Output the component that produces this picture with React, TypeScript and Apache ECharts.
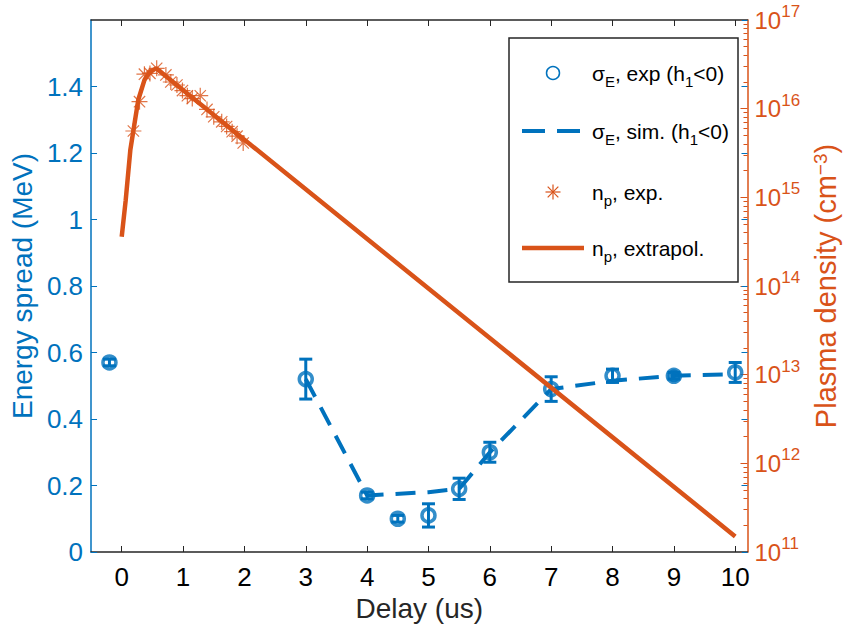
import { useEffect, useRef } from "react";
import * as echarts from "echarts";

const BLUE = "#0072BD";
const ORANGE = "#D95319";
const FONT = "'Liberation Sans', Arial, Helvetica, sans-serif";

// Energy spread, experiment (h1 < 0): delay [us], spread [MeV], error half-width [MeV]
const expDelay = [-0.2, 3, 4, 4.5, 5, 5.5, 6, 7, 8, 9, 10];
const expSpread = [0.57, 0.52, 0.17, 0.1, 0.11, 0.19, 0.3, 0.49, 0.53, 0.53, 0.54];
const expError = [0.01, 0.06, 0.01, 0.01, 0.035, 0.032, 0.03, 0.037, 0.02, 0.01, 0.03];
const expFilled = [false, false, false, false, false, false, false, false, false, true, false];

// Energy spread, simulation (h1 < 0)
const simDelay = [3, 4, 5, 5.5, 6, 7, 8, 9, 10];
const simSpread = [0.52, 0.17, 0.18, 0.19, 0.3, 0.49, 0.515, 0.53, 0.535];

// Plasma density, measured [cm^-3]
const npDelay = [0.19, 0.29, 0.37, 0.46, 0.57, 0.72, 0.8, 0.9, 0.99, 1.07, 1.15, 1.28, 1.39, 1.5, 1.63, 1.71, 1.8, 1.88, 1.98];
const npDensity = [5.6e15, 1.2e16, 2.45e16, 2.5e16, 2.85e16, 2.4e16, 2.0e16, 1.85e16, 1.6e16, 1.4e16, 1.3e16, 1.4e16, 9.8e15, 8.1e15, 7.1e15, 6.3e15, 5.5e15, 4.9e15, 4.1e15];

// Plasma density, extrapolated [cm^-3]
const fitDelay = [0, 0.065, 0.14, 0.27, 0.37, 0.46, 0.56, 10];
const fitDensity = [3.6e14, 9.3e14, 3.4e15, 1.26e16, 2.1e16, 2.6e16, 2.85e16, 1.5e11];

// Axis ticks
const delayTicks = [0, 1, 2, 3, 4, 5, 6, 7, 8, 9, 10];
const densityTicks = [1e11, 1e12, 1e13, 1e14, 1e15, 1e16, 1e17];

const densityMinorTicks: number[] = [];
for (let e = 11; e < 17; e++) {
  for (let k = 2; k <= 9; k++) densityMinorTicks.push(k * Math.pow(10, e));
}

const ASTERISK = "path://M0 -10L0 10M-10 0L10 0M-7.07 -7.07L7.07 7.07M-7.07 7.07L7.07 -7.07";

const legendText = {
  t: { fontSize: 21, fontFamily: FONT, color: "#000", lineHeight: 32 },
  s: { fontSize: 15, fontFamily: FONT, color: "#000", lineHeight: 15, verticalAlign: "bottom" as const },
};

export default function App() {
  const ref = useRef<HTMLDivElement>(null);

  useEffect(() => {
    document.body.style.margin = "0";
    if (!ref.current) return;
    const chart = echarts.init(ref.current, undefined, { renderer: "svg" });

    const gridLeft = 90;
    const gridTop = 20;
    const gridRight = 97;
    const gridBottom = 86;

    const lx = 509; // legend box
    const ly = 38;
    const rowY = [73, 131, 192, 248];
    const iconX0 = 522;
    const iconX1 = 580;
    const iconC = 553;
    const textX = 592;

    const astLines = (cx: number, cy: number, r: number) => {
      const d = r * 0.7071;
      const segs = [
        [0, -r, 0, r],
        [-r, 0, r, 0],
        [-d, -d, d, d],
        [-d, d, d, -d],
      ];
      return segs.map((s) => ({
        type: "line",
        z: 12,
        shape: { x1: cx + s[0], y1: cy + s[1], x2: cx + s[2], y2: cy + s[3] },
        style: { stroke: ORANGE, lineWidth: 1.2 },
      }));
    };

    chart.setOption({
      animation: false,
      backgroundColor: "#fff",
      textStyle: { fontFamily: FONT },
      grid: { left: gridLeft, top: gridTop, right: gridRight, bottom: gridBottom, containLabel: false },
      xAxis: [
        {
          type: "value",
          min: -0.5,
          max: 10.2,
          position: "bottom",
          name: "Delay (us)",
          nameLocation: "middle",
          nameGap: 40,
          nameTextStyle: { fontSize: 28, color: "#262626", fontFamily: FONT },
          axisLine: { onZero: false, lineStyle: { color: "#262626", width: 1.5 } },
          axisTick: { inside: true, length: 6, customValues: delayTicks, lineStyle: { color: "#262626" } },
          axisLabel: { customValues: delayTicks, fontSize: 26, color: "#000", margin: 12, fontFamily: FONT },
          splitLine: { show: false },
        },
        {
          type: "value",
          min: -0.5,
          max: 10.2,
          position: "top",
          axisLine: { onZero: false, lineStyle: { color: "#262626", width: 1.5 } },
          axisTick: { inside: true, length: 6, customValues: delayTicks, lineStyle: { color: "#262626" } },
          axisLabel: { show: false },
          splitLine: { show: false },
        },
      ],
      yAxis: [
        {
          type: "value",
          min: 0,
          max: 1.6,
          interval: 0.2,
          position: "left",
          name: "Energy spread (MeV)",
          nameLocation: "middle",
          nameGap: 52,
          nameTextStyle: { fontSize: 28, color: BLUE, fontFamily: FONT },
          axisLine: { show: true, onZero: false, lineStyle: { color: BLUE, width: 1.5 } },
          axisTick: { show: true, inside: true, length: 6, lineStyle: { color: BLUE } },
          axisLabel: { fontSize: 26, color: BLUE, margin: 8, showMaxLabel: false, fontFamily: FONT },
          splitLine: { show: false },
        },
        {
          type: "log",
          logBase: 10,
          min: 1e11,
          max: 1e17,
          position: "right",
          name: "Plasma density (cm{sup|−3})",
          nameLocation: "middle",
          nameGap: 60,
          nameTextStyle: {
            fontSize: 29,
            color: ORANGE,
            fontFamily: FONT,
            rich: { sup: { fontSize: 19, color: ORANGE, fontFamily: FONT, verticalAlign: "top", lineHeight: 16 } },
          },
          axisLine: { show: true, onZero: false, lineStyle: { color: ORANGE, width: 1.5 } },
          axisTick: { show: true, inside: true, length: 7, customValues: densityTicks, lineStyle: { color: ORANGE } },
          axisLabel: {
            customValues: densityTicks,
            margin: 7,
            formatter: (v: number) => `{b|10}{s|${Math.round(Math.log10(v))}}`,
            rich: {
              b: { fontSize: 24, color: ORANGE, fontFamily: FONT, lineHeight: 34 },
              s: { fontSize: 17, color: ORANGE, fontFamily: FONT, lineHeight: 17, verticalAlign: "top" },
            },
          },
          splitLine: { show: false },
        },
        {
          // minor log ticks on the density axis
          type: "log",
          logBase: 10,
          min: 1e11,
          max: 1e17,
          position: "right",
          axisLine: { show: false, onZero: false },
          axisTick: { show: true, inside: true, length: 4, customValues: densityMinorTicks, lineStyle: { color: ORANGE } },
          axisLabel: { show: false },
          splitLine: { show: false },
        },
        {
          // energy-spread ticks repeated on the right edge
          type: "value",
          min: 0,
          max: 1.6,
          interval: 0.2,
          position: "right",
          axisLine: { show: false, onZero: false },
          axisTick: { show: true, inside: true, length: 6, lineStyle: { color: BLUE } },
          axisLabel: { show: false },
          splitLine: { show: false },
        },
      ],
      series: [
        {
          name: "sigma sim",
          type: "line",
          xAxisIndex: 0,
          yAxisIndex: 0,
          data: simDelay.map((d, i) => [d, simSpread[i]]),
          showSymbol: false,
          symbol: "none",
          lineStyle: { color: BLUE, width: 4, type: [20, 12] },
          z: 2,
        },
        {
          name: "sigma err",
          type: "custom",
          xAxisIndex: 0,
          yAxisIndex: 0,
          data: expDelay.map((d, i) => [d, expSpread[i] - expError[i], expSpread[i] + expError[i]]),
          encode: { x: 0, y: [1, 2] },
          renderItem: (_params: any, api: any) => {
            const x = api.value(0);
            const lo = api.coord([x, api.value(1)]);
            const hi = api.coord([x, api.value(2)]);
            const cap = 6.5;
            const style = { stroke: BLUE, lineWidth: 3, fill: null };
            return {
              type: "group",
              children: [
                { type: "line", shape: { x1: lo[0], y1: lo[1], x2: hi[0], y2: hi[1] }, style },
                { type: "line", shape: { x1: lo[0] - cap, y1: lo[1], x2: lo[0] + cap, y2: lo[1] }, style },
                { type: "line", shape: { x1: hi[0] - cap, y1: hi[1], x2: hi[0] + cap, y2: hi[1] }, style },
              ],
            };
          },
          z: 3,
        },
        {
          name: "sigma exp",
          type: "scatter",
          xAxisIndex: 0,
          yAxisIndex: 0,
          symbol: "circle",
          symbolSize: 13,
          data: expDelay.map((d, i) => ({
            value: [d, expSpread[i]],
            itemStyle: { color: expFilled[i] ? BLUE : "rgba(0,0,0,0)" },
          })),
          itemStyle: { borderColor: BLUE, borderWidth: 3.5 },
          z: 4,
        },
        {
          name: "np exp",
          type: "scatter",
          xAxisIndex: 0,
          yAxisIndex: 1,
          symbol: ASTERISK,
          symbolSize: 16,
          data: npDelay.map((d, i) => [d, npDensity[i]]),
          itemStyle: { color: "rgba(0,0,0,0)", borderColor: ORANGE, borderWidth: 1.2 },
          z: 5,
        },
        {
          name: "np fit",
          type: "line",
          xAxisIndex: 0,
          yAxisIndex: 1,
          data: fitDelay.map((d, i) => [d, fitDensity[i]]),
          symbol: "none",
          lineStyle: { color: ORANGE, width: 4.5 },
          z: 6,
        },
      ],
      graphic: [
        {
          type: "rect",
          shape: { x: lx, y: ly, width: 229, height: 244 },
          style: { fill: "#fff", stroke: "#262626", lineWidth: 1.5 },
          z: 10,
        },
        {
          type: "circle",
          shape: { cx: iconC, cy: rowY[0], r: 6.5 },
          style: { fill: "none", stroke: BLUE, lineWidth: 1.5 },
          z: 11,
        },
        {
          type: "line",
          shape: { x1: iconX0, y1: rowY[1], x2: iconX1, y2: rowY[1] },
          style: { stroke: BLUE, lineWidth: 4, lineDash: [23, 12] },
          z: 11,
        },
        ...astLines(iconC, rowY[2], 7.5),
        {
          type: "line",
          shape: { x1: iconX0, y1: rowY[3], x2: iconX1 + 4, y2: rowY[3] },
          style: { stroke: ORANGE, lineWidth: 4.5 },
          z: 11,
        },
        {
          type: "text",
          x: textX,
          y: rowY[0],
          z: 11,
          style: { text: "{t|σ}{s|E}{t|, exp (h}{s|1}{t|<0)}", rich: legendText, verticalAlign: "middle" },
        },
        {
          type: "text",
          x: textX,
          y: rowY[1],
          z: 11,
          style: { text: "{t|σ}{s|E}{t|, sim. (h}{s|1}{t|<0)}", rich: legendText, verticalAlign: "middle" },
        },
        {
          type: "text",
          x: textX,
          y: rowY[2],
          z: 11,
          style: { text: "{t|n}{s|p}{t|, exp.}", rich: legendText, verticalAlign: "middle" },
        },
        {
          type: "text",
          x: textX,
          y: rowY[3],
          z: 11,
          style: { text: "{t|n}{s|p}{t|, extrapol.}", rich: legendText, verticalAlign: "middle" },
        },
      ],
    });

    return () => chart.dispose();
  }, []);

  return <div ref={ref} style={{ width: 848, height: 638 }} />;
}
